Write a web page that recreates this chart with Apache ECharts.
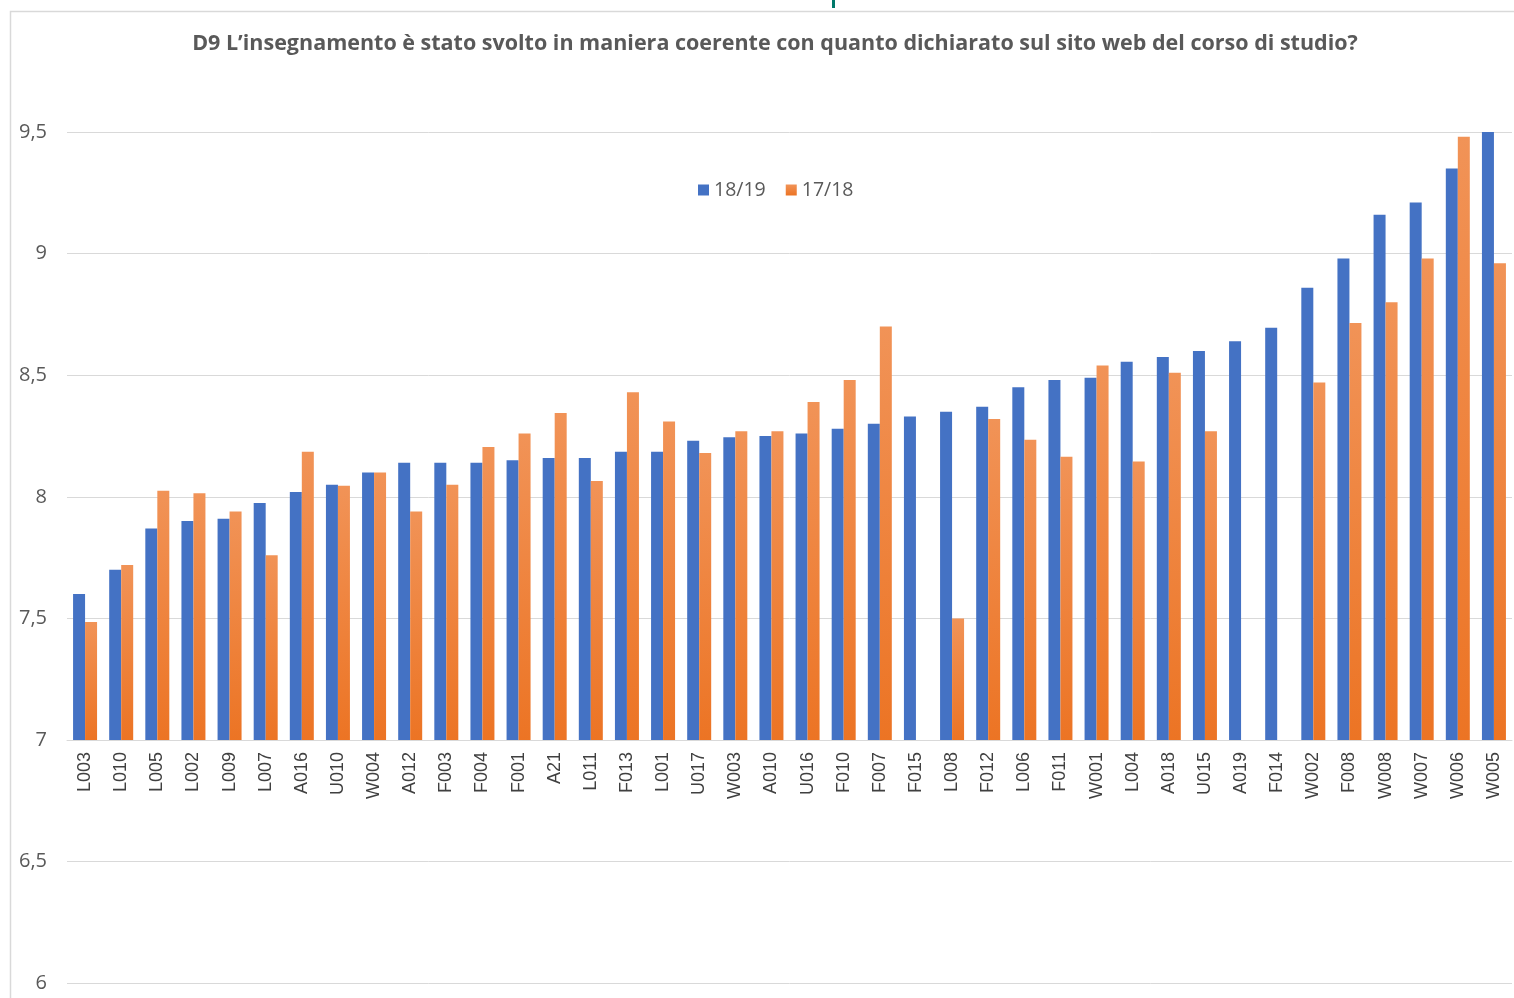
<!DOCTYPE html>
<html>
<head>
<meta charset="utf-8">
<script src="https://cdn.jsdelivr.net/npm/echarts@6/dist/echarts.min.js"></script>
<style>
html,body{margin:0;padding:0;background:#fff;}
#chart{width:1514px;height:998px;}
</style>
</head>
<body>
<div id="chart"></div>
<script>
const categories = ['L003','L010','L005','L002','L009','L007','A016','U010','W004','A012','F003','F004','F001','A21','L011','F013','L001','U017','W003','A010','U016','F010','F007','F015','L008','F012','L006','F011','W001','L004','A018','U015','A019','F014','W002','F008','W008','W007','W006','W005'];
const s1819 = [7.60,7.70,7.87,7.90,7.91,7.975,8.02,8.05,8.10,8.14,8.14,8.14,8.15,8.16,8.16,8.185,8.185,8.23,8.245,8.25,8.26,8.28,8.30,8.33,8.35,8.37,8.45,8.48,8.49,8.555,8.575,8.60,8.64,8.695,8.86,8.98,9.16,9.21,9.35,9.5];
const s1718 = [7.485,7.72,8.025,8.015,7.94,7.76,8.185,8.045,8.10,7.94,8.05,8.205,8.26,8.345,8.065,8.43,8.31,8.18,8.27,8.27,8.39,8.48,8.70,null,7.50,8.32,8.235,8.165,8.54,8.145,8.51,8.27,null,null,8.47,8.715,8.80,8.98,9.48,8.96];
const seriesNames = ['18/19','17/18'];
const titleText = 'D9 L\u2019insegnamento \u00e8 stato svolto in maniera coerente con quanto dichiarato sul sito web del corso di studio?';

const fmt = v => String(v).replace('.', ',');
const gridLeft = 67, gridWidth = 1445;

const chart = echarts.init(document.getElementById('chart'));
chart.setOption({
  animation: false,
  backgroundColor: '#fff',
  title: {
    text: titleText,
    left: 770, textAlign: 'center', top: 28,
    textStyle: {fontFamily: 'Open Sans', fontSize: 21.5, fontWeight: 'bold', color: '#595959'}
  },
  legend: {
    data: seriesNames,
    left: 693, top: 175,
    icon: 'rect', itemWidth: 11, itemHeight: 11, itemGap: 20,
    textStyle: {fontFamily: 'Open Sans', fontSize: 19.5, color: '#595959'}
  },
  graphic: [
    {type: 'rect', left: 8, top: 9, shape: {width: 1600, height: 1100}, style: {fill: 'none', stroke: '#d9d9d9', lineWidth: 1.5}, z: -1},
    {type: 'rect', left: 832, top: 0, shape: {width: 3, height: 8}, style: {fill: '#00796b'}}
  ],
  grid: [
    {left: gridLeft, width: gridWidth, top: 132, height: 608},
    {left: gridLeft, width: gridWidth, top: 740, height: 243}
  ],
  xAxis: [
    {
      type: 'category', data: categories, gridIndex: 0,
      axisLine: {lineStyle: {color: '#d9d9d9'}},
      axisTick: {show: false},
      axisLabel: {rotate: 90, interval: 0, margin: 12, fontFamily: 'Liberation Sans', fontSize: 18, color: '#404040'}
    },
    {type: 'category', data: categories, gridIndex: 1, show: false}
  ],
  yAxis: [
    {
      type: 'value', gridIndex: 0, min: 7, max: 9.5, interval: 0.5,
      axisLine: {show: false}, axisTick: {show: false},
      splitLine: {lineStyle: {color: '#d9d9d9'}},
      axisLabel: {formatter: fmt, margin: 20, fontFamily: 'Open Sans', fontSize: 20, color: '#595959'}
    },
    {
      type: 'value', gridIndex: 1, min: 6, max: 7, interval: 0.5,
      axisLine: {show: false}, axisTick: {show: false},
      splitLine: {lineStyle: {color: '#d9d9d9'}},
      axisLabel: {formatter: fmt, showMaxLabel: false, margin: 20, fontFamily: 'Open Sans', fontSize: 20, color: '#595959'}
    }
  ],
  series: [
    {
      name: seriesNames[0], type: 'bar', xAxisIndex: 0, yAxisIndex: 0,
      data: s1819, barWidth: 12, barGap: '0%',
      itemStyle: {color: '#4472C4'}
    },
    {
      name: seriesNames[1], type: 'bar', xAxisIndex: 0, yAxisIndex: 0,
      data: s1718, barWidth: 12, barGap: '0%',
      itemStyle: {color: new echarts.graphic.LinearGradient(0, 0, 0, 1, [
        {offset: 0, color: '#F19357'}, {offset: 1, color: '#EC7424'}
      ])}
    }
  ]
});
</script>
</body>
</html>
